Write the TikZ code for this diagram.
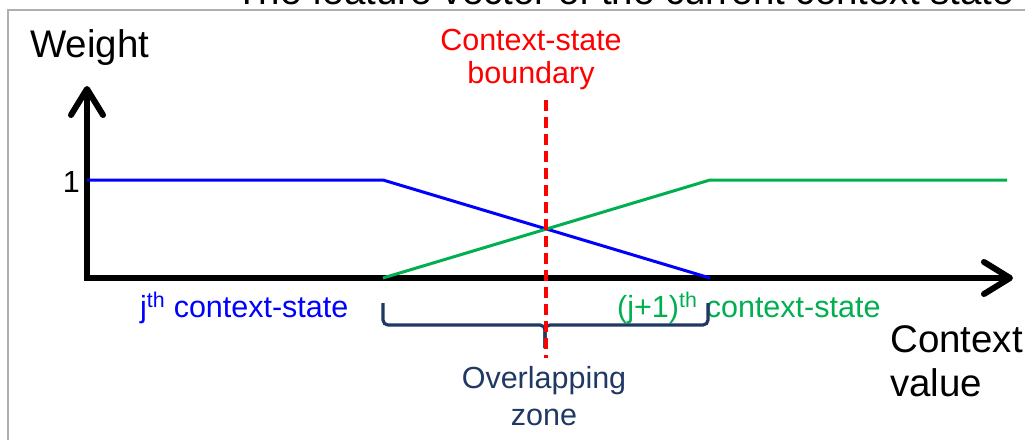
\documentclass[tikz,border=0pt]{standalone}
\usepackage{fontspec}
\setmainfont{Liberation Sans}
\usetikzlibrary{arrows.meta}
\definecolor{stateblue}{RGB}{0,0,255}
\definecolor{stategreen}{RGB}{0,176,80}
\definecolor{zonenavy}{RGB}{31,56,100}
\definecolor{framegray}{RGB}{175,175,175}

\begin{document}
\begin{tikzpicture}[x=1pt,y=1pt,
  bigtxt/.style={font=\fontsize{38.5}{44}\selectfont, inner sep=0pt},
  smalltxt/.style={font=\fontsize{30.5}{34}\selectfont, inner sep=0pt},
  axisline/.style={line width=6pt, line join=miter,
    {Straight Barb[length=26pt,width=32pt,round]}-{Straight Barb[length=26pt,width=32pt,round]}},
  weightline/.style={line width=3pt, line join=round},
  bracepath/.style={zonenavy, line width=3.2pt, rounded corners=5pt}]
\useasboundingbox (0,0) rectangle (1025,440);
\clip (0,0) rectangle (1025,440);
% frame and the cut-off title above it
\draw[framegray, line width=2pt] (8,0) -- (8,430) -- (1025,430);
\node[bigtxt, anchor=base west] (title) at (235,435) {The feature vector of the current context state};
% axes
\coordinate (origin) at (87,162);
\coordinate (ytip) at (87,354);
\coordinate (xtip) at (1013,162);
\draw[axisline] (ytip) -- (origin) -- (xtip);
\node[bigtxt, anchor=base west] (weight) at (30,382) {Weight};
\node[smalltxt, anchor=east] (one) at (80,258) {1};
\node[bigtxt, anchor=north west, align=left,
  font=\fontsize{38.5}{44}\selectfont] (ctxvalue) at (890,115) {Context\\value};
% membership lines
\draw[weightline, stateblue] (87,260) -- (383,260) -- (710,162);
\draw[weightline, stategreen] (383,162) -- (710,260) -- (1007,260);
% state labels
\node[smalltxt, text=stateblue, anchor=base west] (jstate) at (140,123)
  {j\textsuperscript{th} context-state};
\node[smalltxt, text=stategreen, anchor=base west] (nextstate) at (617,123)
  {(j+1)\textsuperscript{th} context-state};
% overlapping zone brace
\draw[bracepath] (383,137) -- (383,115) -- (545,115) -- (545,92);
\draw[bracepath] (708,137) -- (708,115) -- (545,115) -- (545,92);
\node[smalltxt, text=zonenavy, anchor=north, align=center,
  font=\fontsize{30.5}{37}\selectfont] (zone) at (544,74) {Overlapping\\zone};
% boundary
\node[smalltxt, text=red, anchor=north, align=center,
  font=\fontsize{30.5}{33}\selectfont] (boundary) at (531,411) {Context-state\\boundary};
\draw[red, line width=3.5pt, dash pattern=on 11pt off 6pt] (546,340) -- (546,82);
\end{tikzpicture}
\end{document}
